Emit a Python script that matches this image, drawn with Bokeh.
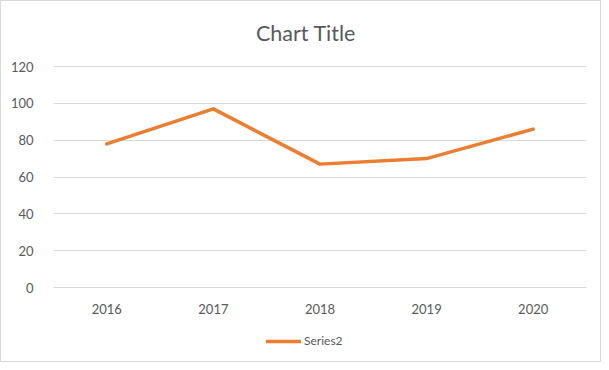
from bokeh.plotting import figure
from bokeh.models import Legend, LegendItem, FixedTicker, Label
from bokeh.embed import file_html
from bokeh.resources import INLINE

years = ["2016", "2017", "2018", "2019", "2020"]
series2 = [78, 97, 67, 70, 86]
y_ticks = [0, 20, 40, 60, 80, 100, 120]
title_text = "Chart Title"

TXT = "#595959"
GRID = "#D9D9D9"
FONT = "Lato"

# frame covers the figure height except 7 px at the bottom (355 px);
# value 120 sits 65 px below the frame top, 1.842 px per unit
PX = 1.842
Y_TOP = 120 + 65 / PX
Y_BOTTOM = 120 - (355 - 65) / PX

p = figure(x_range=years, y_range=(Y_BOTTOM, Y_TOP), width=601, height=362,
           output_backend="svg", toolbar_location=None,
           min_border_left=52, min_border_right=16,
           min_border_top=0, min_border_bottom=7)
p.styles = {"border": "1px solid #D9D9D9", "box-sizing": "border-box"}

p.outline_line_color = None
p.xgrid.grid_line_color = None
p.ygrid.grid_line_color = GRID
p.ygrid.grid_line_width = 1

p.yaxis.ticker = FixedTicker(ticks=y_ticks)
p.yaxis.axis_line_color = None
p.yaxis.major_tick_line_color = None
p.yaxis.minor_tick_line_color = None
p.yaxis.major_label_standoff = 14
p.yaxis.major_label_text_font = FONT
p.yaxis.major_label_text_font_size = "13px"
p.yaxis.major_label_text_color = TXT

p.xaxis.fixed_location = 0
p.xaxis.axis_line_color = GRID
p.xaxis.major_tick_line_color = None
p.xaxis.minor_tick_line_color = None
p.xaxis.major_label_standoff = 10
p.xaxis.major_label_text_font = FONT
p.xaxis.major_label_text_font_size = "13px"
p.xaxis.major_label_text_color = TXT

r = p.line(x=years, y=series2, line_color="#ED7D31", line_width=3.5,
           line_join="round", line_cap="round")

# chart title, centred a little left of the plot-area centre
title = Label(x=2.5 - 14 / 106.6, y=Y_TOP - 31 / PX, text=title_text,
              text_align="center", text_baseline="middle",
              text_font=FONT, text_font_size="21.5px", text_color=TXT)
p.add_layout(title)

legend = Legend(items=[LegendItem(label="Series2", renderers=[r])],
                orientation="horizontal", location=(213, 8),
                border_line_color=None, background_fill_alpha=0,
                glyph_width=35, glyph_height=14, label_height=14,
                label_standoff=3, padding=0, margin=0, spacing=0,
                label_text_font=FONT, label_text_font_size="12px",
                label_text_color=TXT)
p.add_layout(legend)

open("out.html", "w").write(file_html(p, INLINE))
